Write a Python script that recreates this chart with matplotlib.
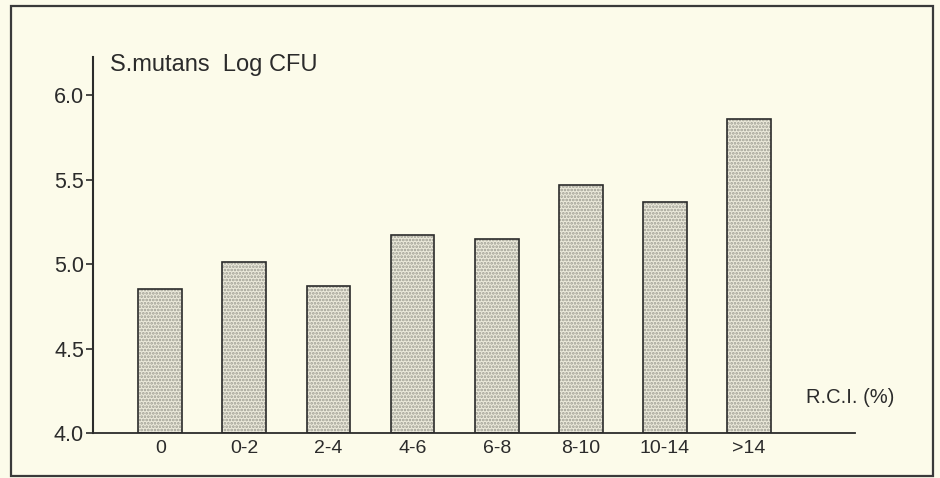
import matplotlib

matplotlib.use("Agg")

import matplotlib.pyplot as plt
from matplotlib.patches import Rectangle

# data
CATEGORIES = ["0", "0-2", "2-4", "4-6", "6-8", "8-10", "10-14", ">14"]
LOG_CFU = [4.85, 5.01, 4.87, 5.17, 5.15, 5.47, 5.37, 5.86]
Y_TICKS = [4.0, 4.5, 5.0, 5.5, 6.0]

PAPER = "#fcfbea"
INK = "#2b2b2b"


def main() -> None:
    plt.rcParams["font.family"] = ["Liberation Sans", "DejaVu Sans"]
    plt.rcParams["hatch.linewidth"] = 1.3

    fig = plt.figure(figsize=(9.4, 4.78), dpi=100, facecolor=PAPER)
    ax = fig.add_axes([0.0989, 0.0941, 0.8106, 0.7866], facecolor=PAPER)

    x = list(range(len(CATEGORIES)))
    heights = [v - 4.0 for v in LOG_CFU]

    # dotted fill, then the outline on top
    ax.bar(x, heights, bottom=4.0, width=0.52, color="#eceadb",
           edgecolor="#9c9b91", hatch=".....", linewidth=0, zorder=2)
    ax.bar(x, heights, bottom=4.0, width=0.52, fill=False,
           edgecolor=INK, linewidth=1.2, zorder=3)

    ax.set_xlim(-0.80, 8.26)
    ax.set_ylim(4.0, 6.225)
    ax.set_yticks(Y_TICKS)
    ax.set_yticklabels([f"{t:.1f}" for t in Y_TICKS], fontsize=15.5, color=INK)
    ax.set_xticks(x)
    ax.set_xticklabels(CATEGORIES, fontsize=14, color=INK)

    for side in ("top", "right"):
        ax.spines[side].set_visible(False)
    ax.spines["left"].set_linewidth(1.5)
    ax.spines["bottom"].set_linewidth(1.3)
    ax.spines["left"].set_color(INK)
    ax.spines["bottom"].set_color(INK)
    ax.tick_params(axis="y", length=5, width=1.2, pad=1.5, color=INK)
    ax.tick_params(axis="x", length=0, pad=5)

    ax.text(0.022, 0.98, "S.mutans  Log CFU", transform=ax.transAxes,
            ha="left", va="center", fontsize=17, color=INK)
    ax.text(0.936, 0.095, "R.C.I. (%)", transform=ax.transAxes,
            ha="left", va="center", fontsize=14.5, color=INK, clip_on=False)

    # frame around the whole figure
    fig.patches.append(Rectangle((0.012, 0.004), 0.981, 0.984,
                                 transform=fig.transFigure, fill=False,
                                 edgecolor="#3a3a3a", linewidth=1.6))

    fig.savefig("out.png", dpi=100, facecolor=PAPER)
    plt.close(fig)


if __name__ == "__main__":
    main()
